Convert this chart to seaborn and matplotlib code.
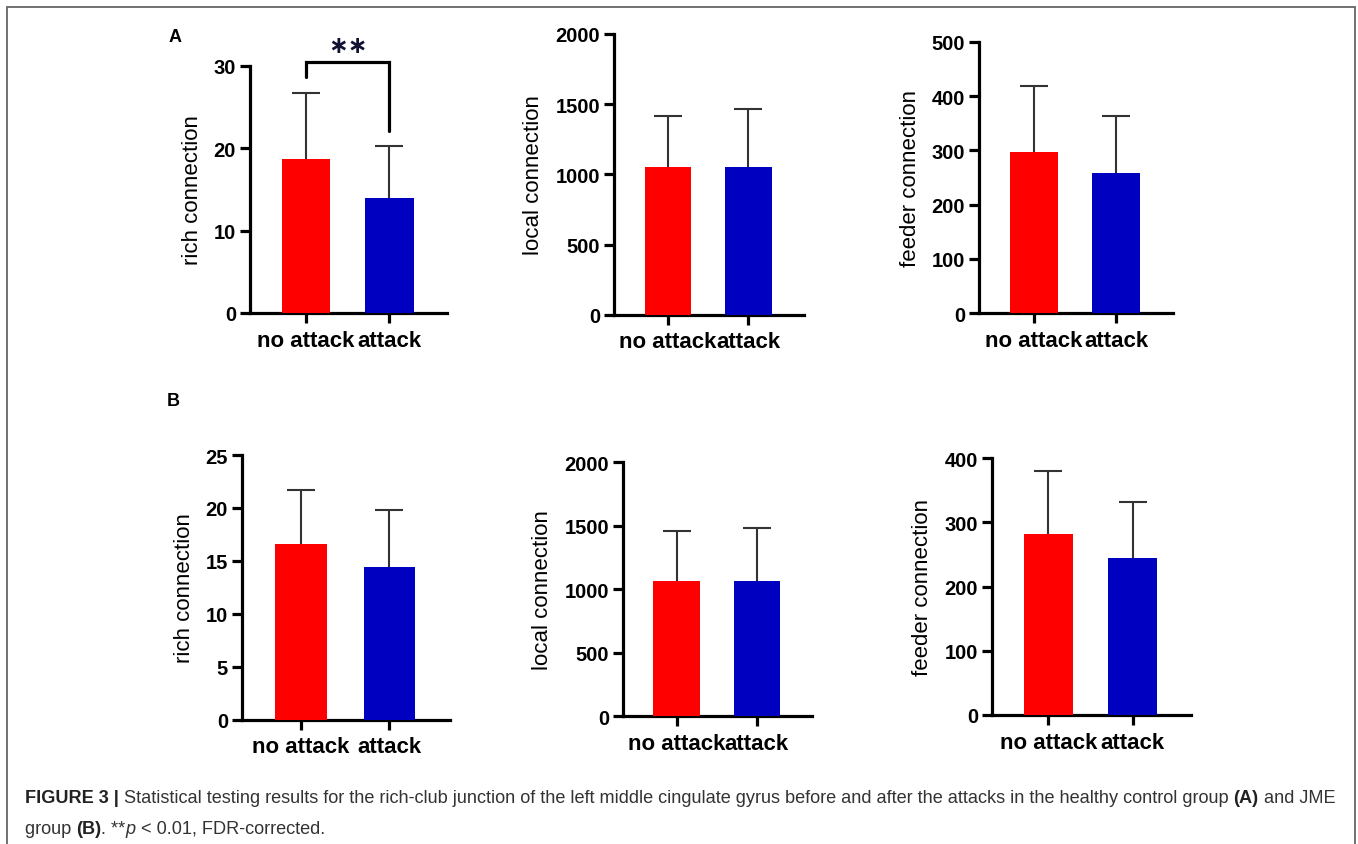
import matplotlib
matplotlib.use("Agg")
import matplotlib.pyplot as plt
import matplotlib.patches as mpatches
import numpy as np
import pandas as pd
import seaborn as sns

# ---------------- data ----------------
categories = ["no attack", "attack"]
bar_colors = ["#FF0000", "#0000C0"]

a_rich_mean = [18.7, 14.0]
a_rich_sd = [8.0, 6.3]
a_local_mean = [1054, 1054]
a_local_sd = [360, 409]
a_feeder_mean = [297.5, 257.7]
a_feeder_sd = [121.5, 106.1]

b_rich_mean = [16.6, 14.45]
b_rich_sd = [5.1, 5.35]
b_local_mean = [1068, 1068]
b_local_sd = [393, 415]
b_feeder_mean = [281.6, 244.0]
b_feeder_sd = [98.4, 87.4]

ylabels = ["rich connection", "local connection", "feeder connection"]
a_yticks = [[0, 10, 20, 30], [0, 500, 1000, 1500, 2000], [0, 100, 200, 300, 400, 500]]
b_yticks = [[0, 5, 10, 15, 20, 25], [0, 500, 1000, 1500, 2000], [0, 100, 200, 300, 400]]

sig_label = "\u2217\u2217"
sig_bracket = [28.6, 30.4, 22.1]  # left leg bottom, top, right leg bottom (rich, A)

caption_line1 = [("FIGURE 3 | ", "bold", "normal"),
                 ("Statistical testing results for the rich-club junction of the left middle cingulate gyrus "
                  "before and after the attacks in the healthy control group ", "normal", "normal"),
                 ("(A)", "bold", "normal"),
                 (" and JME", "normal", "normal")]
caption_line2 = [("group ", "normal", "normal"),
                 ("(B)", "bold", "normal"),
                 (". **", "normal", "normal"),
                 ("p", "normal", "italic"),
                 (" < 0.01, FDR-corrected.", "normal", "normal")]

# ---------------- style ----------------
sns.set_style("ticks")
plt.rcParams["font.family"] = ["Liberation Sans", "DejaVu Sans"]
plt.rcParams["text.color"] = "black"
plt.rcParams["axes.labelcolor"] = "black"
plt.rcParams["xtick.color"] = "black"
plt.rcParams["ytick.color"] = "black"

W, H = 1358, 845
fig = plt.figure(figsize=(W / 100, H / 100), dpi=100)

# axes boxes in pixels: (left spine x, right end x, top y, bottom y)
boxes_a = [(250, 447, 66.7, 314.0), (614, 804, 35.0, 315.7), (979, 1173, 42.7, 314.3)]
boxes_b = [(242, 450, 456.0, 720.7), (623, 812, 463.3, 717.3), (992, 1191, 459.3, 716.0)]

palette = dict(zip(categories, bar_colors))


def make_panel(box, means, sds, yticks, ylabel):
    x0, x1, yt, yb = box
    ax = fig.add_axes([x0 / W, 1 - yb / H, (x1 - x0) / W, (yb - yt) / H])
    df = pd.DataFrame({"group": categories, "value": means})
    sns.barplot(data=df, x="group", y="value", hue="group", palette=palette,
                width=0.58, saturation=1, errorbar=None, legend=False, ax=ax,
                linewidth=0)
    for p in ax.patches:
        p.set_zorder(3)
    _, caps, _ = ax.errorbar(x=np.arange(len(categories)), y=means,
                             yerr=[np.zeros(len(sds)), sds], fmt="none",
                             ecolor="#333333", elinewidth=1.5, capsize=10,
                             capthick=1.5, zorder=2)
    # keep only the upper caps
    caps[0].set_visible(False)
    ax.set_xlim(-0.67, 1.69)
    ax.set_ylim(0, yticks[-1])
    ax.set_yticks(yticks)
    ax.set_yticklabels([str(t) for t in yticks], fontweight="bold", fontsize=14.5)
    ax.set_xticks(range(len(categories)))
    ax.set_xticklabels(categories, fontweight="bold", fontsize=16)
    ax.set_xlabel("")
    ax.set_ylabel(ylabel, fontsize=16, labelpad=8)
    for s in ["top", "right"]:
        ax.spines[s].set_visible(False)
    for s in ["left", "bottom"]:
        ax.spines[s].set_linewidth(2.3)
        ax.spines[s].set_color("black")
    ax.tick_params(axis="both", length=7, width=2.3, color="black")
    ax.tick_params(axis="x", pad=5)
    ax.tick_params(axis="y", pad=3)
    ax.set_facecolor("white")
    return ax


a_means = [a_rich_mean, a_local_mean, a_feeder_mean]
a_sds = [a_rich_sd, a_local_sd, a_feeder_sd]
b_means = [b_rich_mean, b_local_mean, b_feeder_mean]
b_sds = [b_rich_sd, b_local_sd, b_feeder_sd]

axes_a = [make_panel(boxes_a[i], a_means[i], a_sds[i], a_yticks[i], ylabels[i]) for i in range(3)]
axes_b = [make_panel(boxes_b[i], b_means[i], b_sds[i], b_yticks[i], ylabels[i]) for i in range(3)]

# significance bracket on A rich panel
ax0 = axes_a[0]
ax0.plot([0, 0, 1, 1], [sig_bracket[0], sig_bracket[1], sig_bracket[1], sig_bracket[2]],
         color="black", lw=2.3, clip_on=False, solid_joinstyle="miter")
ax0.text(0.5, 32.5, sig_label, ha="center", va="center", fontsize=17,
         fontweight="bold", color="#111133", clip_on=False,
         family=["DejaVu Sans"])

# panel letters
fig.text(175 / W, 1 - 38 / H, "A", fontsize=13, fontweight="bold", ha="center", va="center")
fig.text(173 / W, 1 - 402 / H, "B", fontsize=13, fontweight="bold", ha="center", va="center")

# border
fig.patches.append(mpatches.Rectangle((7 / W, -0.05), 1348 / W, 1 - 8 / H + 0.05,
                                      transform=fig.transFigure, fill=False,
                                      edgecolor="#666666", lw=1.3))

# caption with mixed styles
renderer = fig.canvas.get_renderer()


def run_width(runs, size):
    total = 0
    for txt, wt, st in runs:
        t = fig.text(0, 0, txt, fontsize=size, fontweight=wt, fontstyle=st)
        total += t.get_window_extent(renderer).width
        t.remove()
    return total


cap_size = 12.0
w1 = run_width(caption_line1, cap_size)
cap_size = cap_size * (1312 / w1)


def draw_runs(runs, x0, ybase, size):
    x = x0
    for txt, wt, st in runs:
        t = fig.text(x / W, 1 - ybase / H, txt, fontsize=size, fontweight=wt,
                     fontstyle=st, va="baseline", ha="left",
                     color="#222222" if wt == "bold" else "#333333")
        x += t.get_window_extent(renderer).width


draw_runs(caption_line1, 25, 803, cap_size)
draw_runs(caption_line2, 25, 834, cap_size)

fig.savefig("out.png", dpi=100, facecolor="white")
